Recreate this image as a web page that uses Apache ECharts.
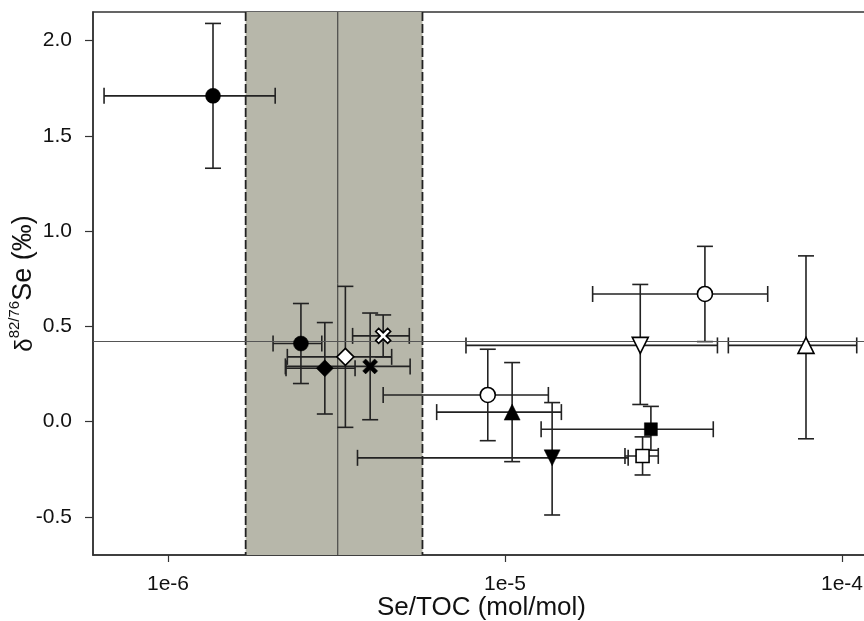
<!DOCTYPE html>
<html>
<head>
<meta charset="utf-8">
<script src="https://cdn.jsdelivr.net/npm/echarts@6/dist/echarts.min.js"></script>
<style>
  html, body { margin: 0; padding: 0; background: #fff; }
  #main { width: 864px; height: 621px; }
</style>
</head>
<body>
<div id="main"></div>
<script>
// Se/TOC (mol/mol), central value and error bar ends
const seToc     = [1.36e-6, 2.48e-6, 2.92e-6, 3.36e-6, 3.98e-6, 4.35e-6, 8.89e-6, 1.05e-5, 1.38e-5, 2.71e-5, 2.56e-5, 2.52e-5, 3.92e-5, 7.82e-5];
const seTocLow  = [6.46e-7, 2.05e-6, 2.24e-6, 2.26e-6, 2.23e-6, 3.53e-6, 4.35e-6, 6.27e-6, 3.65e-6, 1.28e-5, 2.27e-5, 7.66e-6, 1.82e-5, 4.60e-5];
const seTocHigh = [2.08e-6, 2.86e-6, 3.59e-6, 4.61e-6, 5.23e-6, 5.20e-6, 1.345e-5, 1.47e-5, 2.32e-5, 4.15e-5, 2.85e-5, 4.27e-5, 6.02e-5, 1.106e-4];
// δ82/76Se (‰), central value and error bar ends
const delta     = [1.71, 0.41, 0.28, 0.34, 0.29, 0.45, 0.14, 0.05, -0.19, -0.04, -0.18, 0.40, 0.67, 0.40];
const deltaLow  = [1.33, 0.20, 0.04, -0.03, 0.01, 0.34, -0.10, -0.21, -0.49, -0.15, -0.28, 0.09, 0.42, -0.09];
const deltaHigh = [2.09, 0.62, 0.52, 0.71, 0.57, 0.56, 0.38, 0.31, 0.10, 0.08, -0.08, 0.72, 0.92, 0.87];

// shaded range and its centre, reference line
const bandRange = [1.70e-6, 5.69e-6];
const bandMid = 3.19e-6;
const refDelta = 0.42;

const xTickLabels = { '-6': '1e-6', '-5': '1e-5', '-4': '1e-4' };

// marker per point: [symbol, filled, rotate]
const crossPath = 'path://M2,0 L5,3 L8,0 L10,2 L7,5 L10,8 L8,10 L5,7 L2,10 L0,8 L3,5 L0,2 Z';
const markers = [
  ['circle', true, 0], ['circle', true, 0], ['diamond', true, 0], ['diamond', false, 0],
  [crossPath, true, 0], [crossPath, false, 0], ['circle', false, 0], ['triangle', true, 0],
  ['triangle', true, 180], ['rect', true, 0], ['rect', false, 0], ['triangle', false, 180],
  ['circle', false, 0], ['triangle', false, 0]
];
const markerSize = { circle: 15, diamond: 17, rect: 13, triangle: 16 };

const chart = echarts.init(document.getElementById('main'));

const errData = seToc.map((x, i) => [x, delta[i], seTocLow[i], seTocHigh[i], deltaLow[i], deltaHigh[i]]);

const pointData = seToc.map((x, i) => {
  const m = markers[i];
  return {
    value: [x, delta[i]],
    symbol: m[0],
    symbolRotate: m[2],
    symbolSize: markerSize[m[0]] || 15,
    itemStyle: {
      color: m[1] ? '#000' : '#fff',
      borderColor: '#000',
      borderWidth: m[1] ? 0.5 : 1.6,
      opacity: 1
    }
  };
});

// vertical guide lines: [x, kind] kind 0 = dashed edge, 1 = thin centre
const guideData = [[bandRange[0], 0], [bandRange[1], 0], [bandMid, 1]];

const cap = 8;
const txt = 'Liberation Sans, Arial, sans-serif';

const option = {
  animation: false,
  backgroundColor: '#fff',
  grid: {
    left: 93, top: 12, right: -6, bottom: 66,
    show: true, borderColor: '#333', borderWidth: 1.5,
    containLabel: false, outerBoundsMode: 'none'
  },
  xAxis: {
    type: 'log',
    logBase: 10,
    min: 5.99e-7,
    max: 1.211e-4,
    name: 'Se/TOC (mol/mol)',
    nameLocation: 'middle',
    nameGap: 40,
    nameMoveOverlap: false,
    nameTextStyle: { fontFamily: txt, fontSize: 26, color: '#111' },
    axisLine: { show: true, onZero: false, lineStyle: { color: '#333', width: 1.5 } },
    axisTick: { show: true, length: 7, inside: false, lineStyle: { color: '#333', width: 1.2 } },
    axisLabel: {
      margin: 19,
      fontFamily: txt,
      fontSize: 21,
      color: '#111',
      showMinLabel: false,
      showMaxLabel: false,
      formatter: v => {
        const e = Math.round(Math.log10(v));
        return Math.abs(Math.log10(v) - e) < 1e-6 ? (xTickLabels[String(e)] || '') : '';
      }
    },
    splitLine: { show: false },
    minorTick: { show: false }
  },
  yAxis: {
    type: 'value',
    min: -0.7,
    max: 2.15,
    name: '{d|δ}{s|82/76}{n|Se (‰)}',
    nameLocation: 'middle',
    nameRotate: 90,
    nameGap: 56,
    nameMoveOverlap: false,
    nameTextStyle: {
      rich: {
        d: { fontFamily: txt, fontSize: 24, color: '#111', verticalAlign: 'bottom', lineHeight: 30 },
        s: { fontFamily: txt, fontSize: 15, color: '#111', verticalAlign: 'top', lineHeight: 30, padding: [0, 0, 12, 0] },
        n: { fontFamily: txt, fontSize: 27, color: '#111', verticalAlign: 'bottom', lineHeight: 30 }
      }
    },
    axisLine: { show: true, onZero: false, lineStyle: { color: '#333', width: 1.5 } },
    axisTick: { show: true, length: 8, lineStyle: { color: '#333', width: 1.2 } },
    axisLabel: {
      margin: 21,
      fontFamily: txt,
      fontSize: 21,
      color: '#111',
      showMinLabel: false,
      showMaxLabel: false,
      formatter: v => v.toFixed(1)
    },
    splitLine: { show: false }
  },
  series: [
    {
      type: 'line',
      data: [],
      silent: true,
      z: 1,
      markArea: {
        silent: true,
        itemStyle: { color: '#b7b7aa' },
        data: [[{ xAxis: bandRange[0] }, { xAxis: bandRange[1] }]]
      },
      markLine: {
        silent: true,
        symbol: 'none',
        label: { show: false },
        data: [
          { yAxis: refDelta, lineStyle: { type: 'solid', color: '#555', width: 1.2 } }
        ]
      }
    },
    {
      type: 'custom',
      z: 2,
      silent: true,
      data: guideData,
      renderItem: (params, api) => {
        const cs = params.coordSys;
        const px = api.coord([api.value(0), 0])[0];
        const edge = api.value(1) === 0;
        return {
          type: 'line',
          shape: { x1: px, y1: cs.y, x2: px, y2: cs.y + cs.height },
          style: edge
            ? { stroke: '#222', lineWidth: 1.8, lineDash: [9, 3] }
            : { stroke: '#333', lineWidth: 1 }
        };
      }
    },
    {
      type: 'custom',
      z: 3,
      silent: true,
      data: errData,
      renderItem: (params, api) => {
        const y = api.value(1);
        const x = api.value(0);
        const l = api.coord([api.value(2), y]);
        const r = api.coord([api.value(3), y]);
        const b = api.coord([x, api.value(4)]);
        const t = api.coord([x, api.value(5)]);
        const style = { stroke: '#222', lineWidth: 1.6, fill: null };
        const line = (x1, y1, x2, y2) => ({ type: 'line', shape: { x1, y1, x2, y2 }, style });
        return {
          type: 'group',
          children: [
            line(l[0], l[1], r[0], r[1]),
            line(l[0], l[1] - cap, l[0], l[1] + cap),
            line(r[0], r[1] - cap, r[0], r[1] + cap),
            line(b[0], b[1], t[0], t[1]),
            line(b[0] - cap, b[1], b[0] + cap, b[1]),
            line(t[0] - cap, t[1], t[0] + cap, t[1])
          ]
        };
      }
    },
    {
      type: 'scatter',
      z: 5,
      data: pointData
    }
  ]
};

chart.setOption(option);
</script>
</body>
</html>
